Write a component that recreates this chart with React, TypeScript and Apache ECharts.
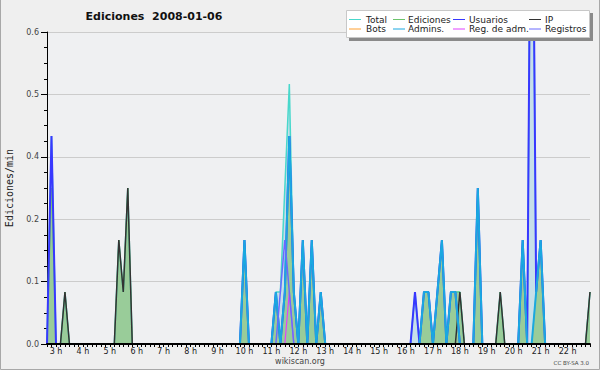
import { useEffect, useRef } from "react";
import * as echarts from "echarts";

// 10-minute buckets, 2:40 .. 22:50
const bucketStartMin = 160;
const bucketEndMin = 1370;
const times: string[] = [];
for (let m = bucketStartMin; m <= bucketEndMin; m += 10) {
  times.push(`${Math.floor(m / 60)}:${String(m % 60).padStart(2, "0")}`);
}

const hourLabels = ["3 h", "4 h", "5 h", "6 h", "7 h", "8 h", "9 h", "10 h", "11 h", "12 h", "13 h", "14 h", "15 h", "16 h", "17 h", "18 h", "19 h", "20 h", "21 h", "22 h"];
const yTicks = [0, 0.12, 0.24, 0.36, 0.48, 0.6];

type Pt = [string, number];

const total: Pt[] = [["2:50", 0.4], ["3:20", 0.1], ["5:20", 0.2], ["5:30", 0.1], ["5:40", 0.3], ["10:00", 0.2], ["11:10", 0.1], ["11:20", 0.1], ["11:30", 0.3], ["11:40", 0.5], ["11:50", 0.1], ["12:10", 0.2], ["12:30", 0.2], ["12:50", 0.1], ["16:20", 0.1], ["16:40", 0.1], ["16:50", 0.1], ["17:10", 0.1], ["17:20", 0.2], ["17:40", 0.1], ["17:50", 0.1], ["18:00", 0.1], ["18:40", 0.3], ["19:30", 0.1], ["20:20", 0.2], ["20:40", 1.2], ["20:50", 0.1], ["21:00", 0.2], ["22:50", 0.1]];
const ediciones: Pt[] = [["2:50", 0.3], ["3:20", 0.1], ["5:20", 0.2], ["5:30", 0.1], ["5:40", 0.3], ["10:00", 0.2], ["11:10", 0.1], ["11:30", 0.1], ["11:40", 0.4], ["11:50", 0.1], ["12:10", 0.2], ["12:30", 0.2], ["12:50", 0.1], ["16:40", 0.1], ["16:50", 0.1], ["17:10", 0.1], ["17:20", 0.2], ["17:40", 0.1], ["17:50", 0.1], ["18:00", 0.1], ["18:40", 0.3], ["19:30", 0.1], ["20:20", 0.2], ["20:50", 0.1], ["21:00", 0.2], ["22:50", 0.1]];
const usuarios: Pt[] = [["2:50", 0.4], ["10:00", 0.2], ["11:10", 0.1], ["11:30", 0.1], ["11:40", 0.4], ["11:50", 0.1], ["12:10", 0.2], ["12:30", 0.2], ["12:50", 0.1], ["16:20", 0.1], ["16:40", 0.1], ["16:50", 0.1], ["17:10", 0.1], ["17:20", 0.2], ["17:40", 0.1], ["17:50", 0.1], ["18:40", 0.3], ["20:20", 0.2], ["20:40", 1.2], ["20:50", 0.1], ["21:00", 0.2]];
const ip: Pt[] = [["3:20", 0.1], ["5:20", 0.2], ["5:30", 0.1], ["5:40", 0.3], ["18:00", 0.1], ["19:30", 0.1], ["22:50", 0.1]];
const bots: Pt[] = [];
const admins: Pt[] = [["10:00", 0.2], ["11:10", 0.1], ["11:30", 0.1], ["11:40", 0.4], ["11:50", 0.1], ["12:10", 0.2], ["12:30", 0.2], ["12:50", 0.1], ["16:40", 0.1], ["16:50", 0.1], ["17:10", 0.1], ["17:20", 0.2], ["17:40", 0.1], ["17:50", 0.1], ["18:40", 0.3], ["20:20", 0.2], ["20:50", 0.1], ["21:00", 0.2]];
const regAdm: Pt[] = [["11:40", 0.1]];
const registros: Pt[] = [["11:20", 0.1], ["11:30", 0.2], ["11:40", 0.1]];

const full = (pts: Pt[]) => {
  const m = new Map(pts);
  return times.map((t) => m.get(t) ?? 0);
};

const legendItems = [
  { name: "Total", color: "#48d8cc" },
  { name: "Ediciones", color: "#6cc46c" },
  { name: "Usuarios", color: "#3838ff" },
  { name: "IP", color: "#333333" },
  { name: "Bots", color: "#ffa030" },
  { name: "Admins.", color: "#1aa8e0" },
  { name: "Reg. de adm.", color: "#e040ff" },
  { name: "Registros", color: "#6a6aff" },
];
const colorOf = (n: string) => legendItems.find((l) => l.name === n)!.color;

export default function App() {
  const ref = useRef<HTMLDivElement>(null);
  useEffect(() => {
    const chart = echarts.init(ref.current!, undefined, { renderer: "svg" });
    const font = "DejaVu Sans";
    const lineSeries = (name: string, pts: Pt[], width: number, area?: string) => ({
      name,
      type: "line",
      data: full(pts),
      symbol: "none",
      lineStyle: { color: colorOf(name), width },
      itemStyle: { color: colorOf(name) },
      areaStyle: area ? { color: area, opacity: 1 } : undefined,
    });

    const colX = [349, 393, 453, 529];
    const textX = [366, 408, 469, 545];
    const rowY = [19.5, 29];
    const legendEls: any[] = [];
    legendItems.forEach((it, k) => {
      const r = Math.floor(k / 4);
      const c = k % 4;
      legendEls.push({
        type: "line",
        z: 103,
        shape: { x1: colX[c], y1: rowY[r], x2: colX[c] + 12, y2: rowY[r] },
        style: { stroke: it.color, lineWidth: 1 },
      });
      legendEls.push({
        type: "text",
        z: 103,
        x: textX[c],
        y: rowY[r],
        style: { text: it.name, font: `9px ${font}`, fill: "#222", verticalAlign: "middle", align: "left" },
      });
    });

    chart.setOption({
      animation: false,
      backgroundColor: "#efefef",
      grid: { left: 47, right: 10, top: 32, bottom: 26, show: true, backgroundColor: "#eff0f2", borderWidth: 0 },
      xAxis: {
        type: "category",
        data: times,
        boundaryGap: false,
        z: 10,
        axisLine: { lineStyle: { color: "#000", width: 2 } },
        axisTick: { interval: 0, length: 3, lineStyle: { color: "#000" } },
        axisLabel: {
          interval: (idx: number, v: string) => v.endsWith(":00"),
          formatter: (v: string) => hourLabels.find((l) => parseInt(l) === parseInt(v)) ?? "",
          fontSize: 8,
          fontFamily: font,
          color: "#222",
          margin: 3,
        },
        splitLine: { show: false },
      },
      yAxis: {
        type: "value",
        min: yTicks[0],
        max: yTicks[yTicks.length - 1],
        interval: yTicks[1],
        axisLine: { show: true, lineStyle: { color: "#000" } },
        axisTick: { show: true, length: 6, lineStyle: { color: "#000" } },
        minorTick: { show: true, splitNumber: 4, length: 3, lineStyle: { color: "#000" } },
        axisLabel: { formatter: (v: number) => v.toFixed(1), fontSize: 8, fontFamily: font, color: "#444", margin: 8 },
        splitLine: { show: true, lineStyle: { color: "#cccccc", width: 1 } },
      },
      series: [
        lineSeries("Total", total, 1.5, "#c6dfe9"),
        lineSeries("Ediciones", ediciones, 1, "#99cc99"),
        lineSeries("Usuarios", usuarios, 2),
        lineSeries("IP", ip, 1.5),
        lineSeries("Bots", bots, 1),
        lineSeries("Reg. de adm.", regAdm, 1.2),
        lineSeries("Admins.", admins, 2),
        lineSeries("Registros", registros, 1.5),
      ],
      graphic: [
        { type: "polyline", shape: { points: [[0.5, 0], [0.5, 369.5], [599.5, 369.5], [599.5, 0]] }, style: { stroke: "#a8a8a8", fill: null, lineWidth: 1 } },
        {
          type: "text", x: 154, y: 16.5,
          style: { text: "Ediciones  2008-01-06", font: `bold 11px ${font}`, fill: "#111", align: "center", verticalAlign: "middle" },
        },
        {
          type: "text", x: 9.5, y: 188, rotation: Math.PI / 2,
          style: { text: "Ediciones/min", font: "10px 'DejaVu Sans Mono'", fill: "#222", align: "center", verticalAlign: "middle" },
        },
        {
          type: "text", x: 300, y: 361,
          style: { text: "wikiscan.org", font: `8px ${font}`, fill: "#444", align: "center", verticalAlign: "middle" },
        },
        {
          type: "text", x: 589, y: 362.5,
          style: { text: "CC BY-SA 3.0", font: `5.5px ${font}`, fill: "#444", align: "right", verticalAlign: "middle" },
        },
        { type: "rect", shape: { x: 349, y: 13, width: 244, height: 28 }, style: { fill: "#8a8a8a" }, z: 100 },
        { type: "rect", shape: { x: 346.5, y: 10.5, width: 243, height: 27 }, style: { fill: "#ffffff", stroke: "#c8c8c8", lineWidth: 1 }, z: 101 },
        ...legendEls,
      ],
    });
    return () => chart.dispose();
  }, []);
  return <div ref={ref} style={{ position: "absolute", left: 0, top: 0, width: 600, height: 370 }} />;
}
